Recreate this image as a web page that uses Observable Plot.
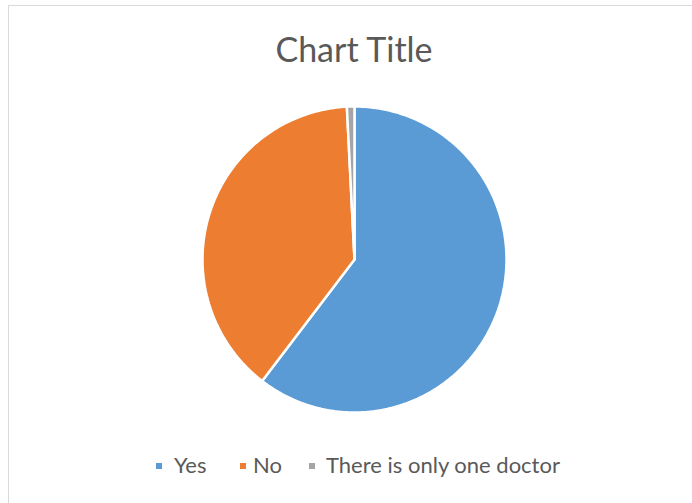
<!DOCTYPE html>
<html>
<head>
<meta charset="utf-8">
<script src="https://cdn.jsdelivr.net/npm/d3@7"></script>
<script src="https://cdn.jsdelivr.net/npm/@observablehq/plot@0.6"></script>
<style>
  html, body { margin: 0; padding: 0; background: #fff; }
  body { width: 692px; height: 503px; position: relative; overflow: hidden; font-family: Lato, "Open Sans", sans-serif; }
  #frame { position: absolute; left: 8px; top: 5px; width: 720px; height: 540px; border: 1.5px solid #d9d9d9; box-sizing: border-box; }
  #chart { position: absolute; left: 0; top: 0; }
  #title { position: absolute; left: 0; width: 708px; top: 32px; text-align: center; font-size: 34px; color: #595959; line-height: 1; }
  .lg { position: absolute; top: 454px; font-size: 22px; color: #595959; line-height: 1; white-space: nowrap; }
  .sw { position: absolute; top: 463px; width: 6px; height: 6px; }
</style>
</head>
<body>
<div id="frame"></div>
<div id="chart"></div>
<div id="title">Chart Title</div>
<div id="legend"></div>
<script>
const categories = ["Yes", "No", "There is only one doctor"];
const values = [60.4, 38.8, 0.8];
const colors = ["#5b9bd5", "#ed7d31", "#a5a5a5"];

const pie = d3.pie().sort(null).value(d => d.value)(categories.map((c, i) => ({label: c, value: values[i]})));
const pts = [];
for (const s of pie) {
  const n = Math.max(3, Math.ceil((s.endAngle - s.startAngle) * 180 / Math.PI));
  pts.push({label: s.data.label, x: 0, y: 0});
  for (let k = 0; k <= n; k++) {
    const a = s.startAngle + (s.endAngle - s.startAngle) * k / n;
    pts.push({label: s.data.label, x: Math.sin(a), y: Math.cos(a)});
  }
  pts.push({label: s.data.label, x: 0, y: 0});
}

const chart = Plot.plot({
  width: 692,
  height: 503,
  x: {domain: [-1, 1], range: [202, 506], axis: null},
  y: {domain: [-1, 1], range: [412, 106], axis: null},
  color: {domain: categories, range: colors},
  marks: [
    Plot.line(pts, {x: "x", y: "y", z: "label", fill: "label", stroke: "white", strokeWidth: 2.5, strokeLinejoin: "miter", curve: "linear"})
  ]
});
chart.style.background = "transparent";
document.getElementById("chart").appendChild(chart);

const legendPos = [[156, 174], [240, 253], [309, 326]];
const lg = document.getElementById("legend");
categories.forEach((c, i) => {
  const sw = document.createElement("div");
  sw.className = "sw";
  sw.style.left = legendPos[i][0] + "px";
  sw.style.background = colors[i];
  lg.appendChild(sw);
  const t = document.createElement("div");
  t.className = "lg";
  t.style.left = legendPos[i][1] + "px";
  t.textContent = c;
  lg.appendChild(t);
});
</script>
</body>
</html>
